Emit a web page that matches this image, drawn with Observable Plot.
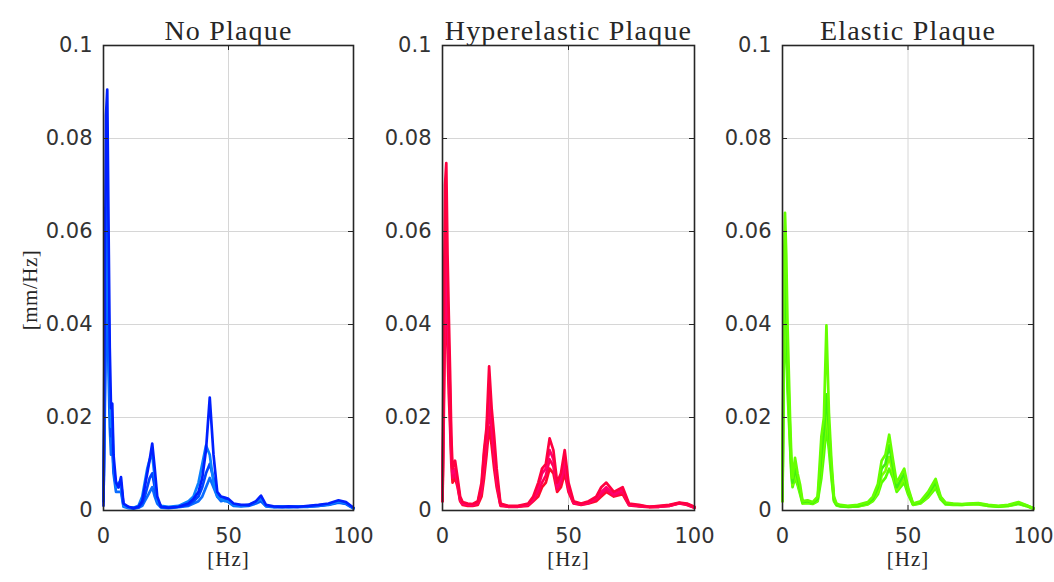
<!DOCTYPE html>
<html><head><meta charset="utf-8">
<script src="https://cdn.jsdelivr.net/npm/d3@7"></script>
<script src="https://cdn.jsdelivr.net/npm/@observablehq/plot@0.6"></script>
<style>
html,body{margin:0;padding:0;background:#fff;}
#chart{position:relative;width:1054px;height:582px;overflow:hidden;background:#fff;}
#chart > .panel{position:absolute;top:0;}
</style></head><body><div id="chart"></div>
<script>
// ---- data ----
const freq = [0,0.5,1,1.5,2,2.5,3,3.5,4,5,6,7,8,10,12,14,15.5,16.5,17.5,18.5,19.5,20.5,21.5,23,26,30,34,36,38,39.5,41,42.5,44,45.5,47,48.5,50,52,55,58,61,63,65,68,71.5,74,78,82,86,90,94,97,100];

const panelTitles = ["No Plaque", "Hyperelastic Plaque", "Elastic Plaque"];
const yTicks = [0, 0.02, 0.04, 0.06, 0.08, 0.1];
const xTicks = [0, 50, 100];
const yLabel = "[mm/Hz]";
const xLabel = "[Hz]";

const noPlaqueA = [0.001,0.045,0.085,0.0905,0.062,0.035,0.022,0.023,0.012,0.006,0.005,0.0072,0.0015,0.0008,0.0005,0.0008,0.002,0.005,0.008,0.011,0.0144,0.009,0.003,0.0008,0.0006,0.0008,0.0015,0.0025,0.004,0.007,0.013,0.0243,0.012,0.004,0.003,0.0028,0.0025,0.0015,0.0012,0.0012,0.002,0.0032,0.0012,0.0009,0.0008,0.0009,0.0008,0.001,0.0012,0.0015,0.0022,0.0018,0.0006];
const noPlaqueB = [0.002,0.03,0.06,0.07,0.045,0.025,0.018,0.02,0.01,0.005,0.006,0.005,0.001,0.0006,0.0006,0.001,0.003,0.006,0.009,0.011,0.012,0.007,0.002,0.001,0.0008,0.001,0.002,0.003,0.006,0.01,0.014,0.012,0.006,0.003,0.0025,0.002,0.002,0.0012,0.001,0.0012,0.0018,0.0025,0.001,0.0008,0.0009,0.0008,0.0009,0.0009,0.0011,0.0013,0.0019,0.0016,0.0005];
const noPlaqueC = [0.003,0.02,0.04,0.05,0.03,0.018,0.012,0.014,0.008,0.004,0.004,0.004,0.0008,0.0005,0.0004,0.0006,0.001,0.002,0.003,0.004,0.005,0.003,0.0015,0.0006,0.0005,0.0007,0.001,0.0015,0.002,0.003,0.005,0.007,0.005,0.003,0.002,0.0022,0.0018,0.001,0.0009,0.001,0.0015,0.002,0.0009,0.0007,0.0007,0.0007,0.0008,0.0008,0.001,0.0012,0.0017,0.0014,0.0004];
const noPlaqueD = [0.002,0.025,0.05,0.06,0.04,0.022,0.016,0.017,0.009,0.005,0.005,0.006,0.0012,0.0007,0.0005,0.0007,0.0015,0.003,0.005,0.007,0.008,0.005,0.002,0.0008,0.0006,0.0008,0.0012,0.002,0.003,0.005,0.008,0.01,0.007,0.0035,0.0028,0.0025,0.002,0.0013,0.0011,0.0011,0.0017,0.0022,0.001,0.0008,0.0008,0.0008,0.0008,0.0009,0.001,0.0013,0.0018,0.0015,0.0005];

const hyperA = [0.002,0.04,0.07,0.0747,0.055,0.042,0.03,0.016,0.009,0.0107,0.007,0.003,0.0018,0.0015,0.0014,0.002,0.006,0.013,0.018,0.031,0.022,0.016,0.009,0.0015,0.001,0.001,0.0015,0.003,0.006,0.009,0.01,0.0155,0.013,0.006,0.008,0.013,0.006,0.002,0.0015,0.002,0.003,0.005,0.006,0.004,0.005,0.0015,0.0012,0.0008,0.001,0.0012,0.0017,0.0015,0.0008];
const hyperB = [0.003,0.03,0.055,0.06,0.045,0.035,0.025,0.013,0.008,0.009,0.006,0.0025,0.0015,0.0013,0.0012,0.0018,0.005,0.012,0.017,0.026,0.02,0.013,0.007,0.0013,0.0009,0.0009,0.0013,0.0025,0.005,0.008,0.009,0.013,0.011,0.005,0.007,0.011,0.005,0.0018,0.0014,0.0018,0.0028,0.004,0.005,0.0035,0.0045,0.0013,0.001,0.0008,0.0009,0.0011,0.0016,0.0014,0.0007];
const hyperC = [0.002,0.02,0.04,0.045,0.035,0.025,0.018,0.01,0.006,0.007,0.005,0.002,0.0012,0.001,0.001,0.0012,0.003,0.007,0.012,0.018,0.014,0.009,0.005,0.001,0.0008,0.0008,0.001,0.002,0.003,0.005,0.006,0.009,0.008,0.004,0.005,0.008,0.004,0.0015,0.0012,0.0015,0.002,0.003,0.004,0.003,0.0035,0.0011,0.0009,0.0007,0.0008,0.001,0.0015,0.0012,0.0006];
const hyperD = [0.002,0.025,0.048,0.052,0.04,0.03,0.021,0.012,0.007,0.008,0.0055,0.0022,0.0014,0.0012,0.0011,0.0015,0.004,0.009,0.014,0.022,0.017,0.011,0.006,0.0012,0.0009,0.0009,0.0012,0.0022,0.004,0.006,0.0075,0.011,0.0095,0.0045,0.006,0.0095,0.0045,0.0016,0.0013,0.0016,0.0024,0.0035,0.0045,0.0032,0.004,0.0012,0.001,0.0008,0.0008,0.001,0.0016,0.0013,0.0006];

const elasticA = [0.002,0.05,0.064,0.055,0.04,0.03,0.02,0.012,0.007,0.0113,0.008,0.0056,0.002,0.0022,0.0018,0.003,0.016,0.02,0.0398,0.021,0.0107,0.003,0.0015,0.0012,0.001,0.0012,0.0018,0.003,0.0057,0.0107,0.012,0.0163,0.011,0.006,0.0075,0.009,0.005,0.0015,0.002,0.004,0.0068,0.003,0.0017,0.0015,0.0014,0.0015,0.0016,0.0012,0.001,0.0012,0.0018,0.0012,0.0005];
const elasticB = [0.003,0.04,0.052,0.045,0.033,0.025,0.017,0.01,0.006,0.009,0.007,0.0045,0.0018,0.002,0.0016,0.0025,0.012,0.017,0.025,0.018,0.009,0.0025,0.0013,0.001,0.0009,0.001,0.0016,0.0025,0.005,0.009,0.01,0.014,0.0095,0.005,0.0065,0.008,0.0045,0.0014,0.0018,0.0035,0.006,0.0028,0.0015,0.0014,0.0013,0.0014,0.0015,0.0011,0.0009,0.0011,0.0016,0.0011,0.0005];
const elasticC = [0.002,0.03,0.04,0.035,0.026,0.02,0.014,0.008,0.005,0.007,0.0055,0.0035,0.0015,0.0016,0.0014,0.002,0.007,0.012,0.018,0.013,0.007,0.002,0.0011,0.0009,0.0008,0.0009,0.0013,0.002,0.0035,0.006,0.007,0.009,0.007,0.004,0.005,0.006,0.0035,0.0012,0.0015,0.0028,0.0048,0.0024,0.0013,0.0012,0.0012,0.0013,0.0013,0.001,0.0008,0.001,0.0014,0.001,0.0004];
const elasticD = [0.002,0.035,0.047,0.04,0.03,0.022,0.015,0.009,0.0055,0.008,0.006,0.004,0.0016,0.0018,0.0015,0.0022,0.01,0.015,0.021,0.016,0.008,0.0022,0.0012,0.001,0.0008,0.0009,0.0014,0.0022,0.004,0.0075,0.0085,0.0115,0.008,0.0045,0.0055,0.007,0.004,0.0013,0.0016,0.003,0.0055,0.0026,0.0014,0.0013,0.0012,0.0013,0.0014,0.001,0.0009,0.001,0.0015,0.001,0.0004];

const blues  = ["#0a6cff", "#0044ff", "#0a80ff", "#0020ff"];
const reds   = ["#ff0a2a", "#ff0058", "#ff0070", "#ff0040"];
const greens = ["#55ff00", "#7cff00", "#40f010", "#66ff00"];

const series = [
  [noPlaqueC, noPlaqueD, noPlaqueB, noPlaqueA],
  [hyperC, hyperD, hyperB, hyperA],
  [elasticC, elasticD, elasticB, elasticA]
];
const palettes = [blues, reds, greens];

// ---- layout ----
const H = 582, MT = 45, MB = 72;
const layout = [
  {left: 0,   width: 398, ml: 103, mr: 45},
  {left: 398, width: 340, ml: 44,  mr: 44},
  {left: 738, width: 316, ml: 44,  mr: 21}
];
const ink = "#262626";
const tickInk = "#333333";
const chart = document.getElementById("chart");

layout.forEach((p, i) => {
  const fw = p.width - p.ml - p.mr;
  const fh = H - MT - MB;
  const marks = [
    Plot.ruleY(yTicks.slice(1, -1), {y: d => d, stroke: "#d6d6d6", strokeWidth: 1}),
    Plot.ruleX(xTicks.slice(1, -1), {x: d => d, stroke: "#d6d6d6", strokeWidth: 1}),
    ...series[i].map((arr, k) => Plot.line(arr, {
      x: (d, j) => freq[j], y: d => d,
      stroke: palettes[i][k], strokeWidth: 2.7, strokeLinejoin: "round", strokeLinecap: "round"
    })),
    Plot.tickY(yTicks, {y: d => d, stroke: ink, insetRight: fw - 5}),
    Plot.tickY(yTicks, {y: d => d, stroke: ink, insetLeft: fw - 5}),
    Plot.tickX(xTicks, {x: d => d, stroke: ink, insetBottom: fh - 5}),
    Plot.tickX(xTicks, {x: d => d, stroke: ink, insetTop: fh - 5}),
    Plot.frame({stroke: ink, strokeWidth: 1.6}),
    Plot.axisY(yTicks, {tickSize: 0, tickPadding: 11, label: null, tickFormat: d => String(d),
      fontSize: 21, fontFamily: "DejaVu Sans", fill: tickInk}),
    Plot.axisX(xTicks, {tickSize: 0, tickPadding: 18, label: null, tickFormat: d => String(d),
      fontSize: 21, fontFamily: "DejaVu Sans", fill: tickInk}),
    Plot.text([panelTitles[i]], {frameAnchor: "top", dy: -25, text: d => d, textAnchor: "middle",
      fontFamily: "Liberation Serif", fontSize: 28, fill: ink}),
    Plot.text([xLabel], {frameAnchor: "bottom", dy: 55, text: d => d, textAnchor: "middle",
      fontFamily: "Liberation Serif", fontSize: 21, fill: ink})
  ];
  if (i === 0) {
    marks.push(Plot.text([yLabel], {frameAnchor: "left", dx: -73, dy: 12, rotate: -90, text: d => d,
      textAnchor: "middle", fontFamily: "Liberation Serif", fontSize: 21, fill: ink}));
  }
  const svg = Plot.plot({
    width: p.width, height: H,
    marginLeft: p.ml, marginRight: p.mr, marginTop: MT, marginBottom: MB,
    x: {domain: [0, 100]},
    y: {domain: [0, 0.1]},
    style: {background: "transparent", overflow: "visible"},
    marks
  });
  // letter spacing for the serif (LaTeX-like) labels
  d3.select(svg).selectAll("text").each(function () {
    const t = this.textContent;
    if (panelTitles.includes(t)) this.setAttribute("letter-spacing", "1.2");
    else if (t === xLabel) this.setAttribute("letter-spacing", "1");
    else if (t === yLabel) this.setAttribute("letter-spacing", "0.5");
  });
  const wrap = document.createElement("div");
  wrap.className = "panel";
  wrap.style.left = p.left + "px";
  wrap.appendChild(svg);
  chart.appendChild(wrap);
});
</script></body></html>
